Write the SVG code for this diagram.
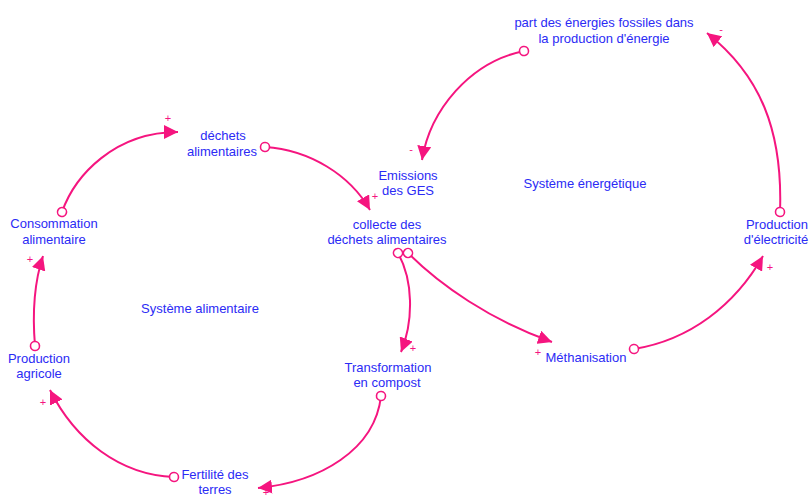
<svg xmlns="http://www.w3.org/2000/svg" width="811" height="497" viewBox="0 0 811 497">
  <style>
    .lbl { font-family: "Liberation Sans", Arial, sans-serif; font-size: 13px; fill: #2b2bf5; text-anchor: middle; }
    .link { fill: none; stroke: #f5157f; stroke-width: 2; marker-start: url(#origin); marker-end: url(#head); }
    .pol { font-family: "Liberation Sans", Arial, sans-serif; font-size: 11px; fill: #f5157f; text-anchor: middle; }
  </style>
  <defs>
    <marker id="head" markerUnits="userSpaceOnUse" viewBox="0 0 12 12" markerWidth="14" markerHeight="14" refX="12" refY="6" orient="auto">
      <path d="M0,0 L12,6 L0,12 z" fill="#f5157f"/>
    </marker>
    <marker id="origin" markerUnits="userSpaceOnUse" viewBox="0 0 12 12" markerWidth="12" markerHeight="12" refX="6" refY="6" orient="auto">
      <circle cx="6" cy="6" r="4.5" fill="#fff" stroke="#f5157f" stroke-width="1.6"/>
    </marker>
  </defs>
  <rect width="811" height="497" fill="#fff"/>

  <!-- causal links -->
  <g id="connectors">
    <path class="link" d="M62,212 C75,175 115,132 178,132"/>
    <path class="link" d="M265,147 C310,150 350,175 370,210"/>
    <path class="link" d="M524,51 C470,62 430,110 422,160"/>
    <path class="link" d="M780,212 C783,130 760,75 707,33"/>
    <path class="link" d="M398,253 C413,280 414,320 401,352"/>
    <path class="link" d="M408,253 C440,285 490,320 552,342"/>
    <path class="link" d="M634,349 C690,340 735,305 763,256"/>
    <path class="link" d="M381,396 C375,450 320,482 258,488"/>
    <path class="link" d="M174,477 C120,475 75,440 50,390"/>
    <path class="link" d="M35,346 C32,310 35,280 43,256"/>
    <!-- polarities -->
    <text class="pol" x="168" y="122">+</text>
    <text class="pol" x="375" y="200">+</text>
    <text class="pol" x="411" y="153">-</text>
    <text class="pol" x="721" y="33">-</text>
    <text class="pol" x="413" y="352">+</text>
    <text class="pol" x="538" y="356">+</text>
    <text class="pol" x="770" y="271">+</text>
    <text class="pol" x="266" y="496">+</text>
    <text class="pol" x="43" y="406">+</text>
    <text class="pol" x="30" y="263">+</text>
  </g>

  <g id="part-fossiles">
    <text class="lbl" x="604" y="27">part des énergies fossiles dans</text>
    <text class="lbl" x="604" y="43">la production d'énergie</text>
  </g>
  <g id="emissions-ges">
    <text class="lbl" x="408" y="180">Emissions</text>
    <text class="lbl" x="408" y="195">des GES</text>
  </g>
  <g id="systeme-energetique">
    <text class="lbl" x="585" y="188">Système énergétique</text>
  </g>
  <g id="dechets-alimentaires">
    <text class="lbl" x="223" y="140">déchets</text>
    <text class="lbl" x="222" y="156">alimentaires</text>
  </g>
  <g id="collecte">
    <text class="lbl" x="387" y="229">collecte des</text>
    <text class="lbl" x="387" y="244">déchets alimentaires</text>
  </g>
  <g id="consommation">
    <text class="lbl" x="54" y="228">Consommation</text>
    <text class="lbl" x="54" y="244">alimentaire</text>
  </g>
  <g id="production-agricole">
    <text class="lbl" x="39" y="363">Production</text>
    <text class="lbl" x="39" y="378">agricole</text>
  </g>
  <g id="systeme-alimentaire">
    <text class="lbl" x="200" y="313">Système alimentaire</text>
  </g>
  <g id="transformation">
    <text class="lbl" x="388" y="372">Transformation</text>
    <text class="lbl" x="387" y="387">en compost</text>
  </g>
  <g id="fertilite">
    <text class="lbl" x="215" y="479">Fertilité des</text>
    <text class="lbl" x="215" y="494">terres</text>
  </g>
  <g id="methanisation">
    <text class="lbl" x="586" y="362">Méthanisation</text>
  </g>
  <g id="production-electricite">
    <text class="lbl" x="777" y="229">Production</text>
    <text class="lbl" x="776" y="244">d'électricité</text>
  </g>
</svg>
